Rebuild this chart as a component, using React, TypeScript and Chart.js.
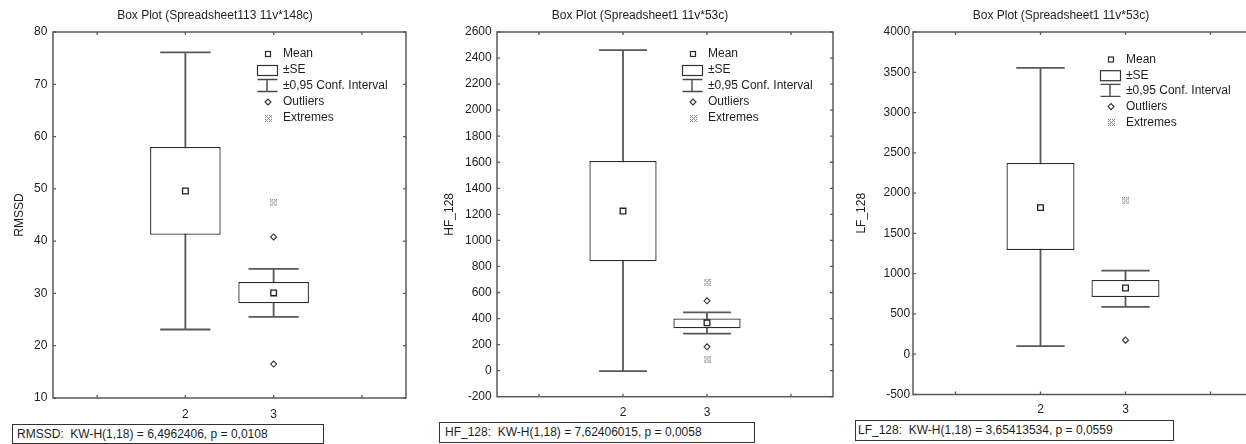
import React, { useEffect, useRef } from 'react';
import { Chart, registerables } from 'chart.js';

Chart.register(...registerables);

const FONT = '"Liberation Sans", Arial, Helvetica, sans-serif';
const TEXT = '#1e1e1e';
Chart.defaults.font.family = FONT;
Chart.defaults.color = TEXT;

// ---------- data ----------
const groupCodes = [2, 3];
const xTickValues = [1, 2, 3, 4];
const xTickLabels = [2, 3];
const legendLabels = ['Mean', '\u00B1SE', '\u00B10,95 Conf. Interval', 'Outliers', 'Extremes'];

const panelTitles = [
  'Box Plot (Spreadsheet113 11v*148c)',
  'Box Plot (Spreadsheet1 11v*53c)',
  'Box Plot (Spreadsheet1 11v*53c)',
];
const yTitles = ['RMSSD', 'HF_128', 'LF_128'];
const footnotes = [
  'RMSSD:  KW-H(1,18) = 6,4962406, p = 0,0108',
  'HF_128:  KW-H(1,18) = 7,62406015, p = 0,0058',
  'LF_128:  KW-H(1,18) = 3,65413534, p = 0,0559',
];

// RMSSD
const rmssdYAxis = [10, 80, 10];
const rmssdMean = [49.6, 30.1];
const rmssdSeLow = [41.2, 28.1];
const rmssdSeHigh = [58.0, 32.2];
const rmssdCiLow = [23.1, 25.5];
const rmssdCiHigh = [76.1, 34.7];
const rmssdOutlierGroup = [3, 3];
const rmssdOutlierValue = [40.8, 16.5];
const rmssdExtremeGroup = [3];
const rmssdExtremeValue = [47.3];

// HF_128
const hfYAxis = [-200, 2600, 200];
const hfMean = [1225, 367];
const hfSeLow = [840, 325];
const hfSeHigh = [1610, 400];
const hfCiLow = [-3, 284];
const hfCiHigh = [2461, 448];
const hfOutlierGroup = [3, 3];
const hfOutlierValue = [536, 183];
const hfExtremeGroup = [3, 3];
const hfExtremeValue = [676, 89];

// LF_128
const lfYAxis = [-500, 4000, 500];
const lfMean = [1820, 822];
const lfSeLow = [1293, 709];
const lfSeHigh = [2375, 921];
const lfCiLow = [100, 587];
const lfCiHigh = [3555, 1037];
const lfOutlierGroup = [3];
const lfOutlierValue = [175];
const lfExtremeGroup = [3];
const lfExtremeValue = [1904];

// ---------- helpers ----------
let iconCache: HTMLCanvasElement | null = null;
function extremeIcon(): HTMLCanvasElement {
  if (iconCache) return iconCache;
  const c = document.createElement('canvas');
  c.width = 7;
  c.height = 7;
  const g = c.getContext('2d')!;
  g.fillStyle = '#8a8a8a';
  for (let x = 0; x < 7; x++) {
    for (let y = 0; y < 7; y++) {
      const edge = x === 0 || x === 6 || y === 0 || y === 6 || x === y || x + y === 6;
      if ((x + y) % 2 === 0 && edge) g.fillRect(x, y, 1, 1);
    }
  }
  iconCache = c;
  return c;
}

const decorPlugin = {
  id: 'boxDecor',
  beforeDatasetsDraw(chart: any, _a: any, o: any) {
    const { ctx, scales } = chart;
    const x = scales.x;
    const y = scales.y;
    const slot = Math.abs(x.getPixelForValue(2) - x.getPixelForValue(1));
    const capHalf = slot * 0.285;
    ctx.save();
    ctx.strokeStyle = '#585858';
    ctx.lineWidth = 1.8;
    o.groups.forEach((g: number, i: number) => {
      const px = x.getPixelForValue(g);
      const lo = y.getPixelForValue(o.ciLow[i]);
      const hi = y.getPixelForValue(o.ciHigh[i]);
      ctx.beginPath();
      ctx.moveTo(px, lo);
      ctx.lineTo(px, hi);
      ctx.moveTo(px - capHalf, lo);
      ctx.lineTo(px + capHalf, lo);
      ctx.moveTo(px - capHalf, hi);
      ctx.lineTo(px + capHalf, hi);
      ctx.stroke();
    });
    ctx.restore();
  },
  afterDatasetsDraw(chart: any, _a: any, o: any) {
    const { ctx, chartArea: a, scales } = chart;
    const x = scales.x;
    const y = scales.y;
    ctx.save();
    // title
    ctx.fillStyle = TEXT;
    ctx.font = `12px ${FONT}`;
    ctx.textBaseline = 'middle';
    ctx.textAlign = 'center';
    ctx.fillText(o.title, o.titleX, o.titleY);
    // frame
    ctx.strokeStyle = '#5a5a5a';
    ctx.lineWidth = 1.5;
    ctx.strokeRect(a.left, a.top, a.right - a.left, a.bottom - a.top);
    // inward ticks
    ctx.lineWidth = 1.3;
    ctx.beginPath();
    y.ticks.forEach((t: any) => {
      const py = y.getPixelForValue(t.value);
      ctx.moveTo(a.left, py);
      ctx.lineTo(a.left + 3, py);
      ctx.moveTo(a.right, py);
      ctx.lineTo(a.right - 3, py);
    });
    x.ticks.forEach((t: any) => {
      const px = x.getPixelForValue(t.value);
      ctx.moveTo(px, a.bottom);
      ctx.lineTo(px, a.bottom - 3);
      ctx.moveTo(px, a.top);
      ctx.lineTo(px, a.top + 3);
    });
    ctx.stroke();

    // legend
    const mx = a.left + o.legendDX;
    const row = (i: number) => a.top + o.legendDY + i * o.legendStep;
    ctx.strokeStyle = '#2a2a2a';
    ctx.lineWidth = 1.2;
    ctx.strokeRect(mx - 2.5, row(0) - 2.5, 5, 5);
    ctx.strokeStyle = '#333';
    ctx.strokeRect(mx - 10.5, row(1) - 4.5, 20, 10);
    ctx.strokeStyle = '#484848';
    ctx.lineWidth = 1.4;
    ctx.beginPath();
    ctx.moveTo(mx - 10.5, row(2) - 6.5);
    ctx.lineTo(mx + 9.5, row(2) - 6.5);
    ctx.moveTo(mx - 1, row(2) - 6.5);
    ctx.lineTo(mx - 1, row(2) + 5.5);
    ctx.moveTo(mx - 10.5, row(2) + 5.5);
    ctx.lineTo(mx + 9.5, row(2) + 5.5);
    ctx.stroke();
    ctx.strokeStyle = '#333';
    ctx.lineWidth = 1.1;
    ctx.beginPath();
    ctx.moveTo(mx - 3, row(3));
    ctx.lineTo(mx, row(3) - 3);
    ctx.lineTo(mx + 3, row(3));
    ctx.lineTo(mx, row(3) + 3);
    ctx.closePath();
    ctx.stroke();
    ctx.drawImage(extremeIcon(), Math.round(mx - 3.5), Math.round(row(4) - 3.5));
    ctx.fillStyle = TEXT;
    ctx.textAlign = 'left';
    legendLabels.forEach((l, i) => ctx.fillText(l, mx + 15, row(i)));
    ctx.restore();
  },
};

type PanelDef = {
  left: number;
  width: number;
  yWidth: number;
  xHeight: number;
  rightPad: number;
  titleX: number;
  yTitlePad: number;
  yTickPad: number;
  xTickPad: number;
  legendDX: number;
  legendDY: number;
  legendStep: number;
  title: string;
  yTitle: string;
  yAxis: number[];
  mean: number[];
  seLow: number[];
  seHigh: number[];
  ciLow: number[];
  ciHigh: number[];
  outG: number[];
  outV: number[];
  extG: number[];
  extV: number[];
  note: string;
  noteBox: { left: number; top: number; width: number; height: number; pad: number };
};

const panels: PanelDef[] = [
  {
    left: 0, width: 430, yWidth: 53, xHeight: 46, rightPad: 24, titleX: 215, yTitlePad: 12.5, yTickPad: 5.6, xTickPad: 9.8,
    legendDX: 215, legendDY: 22, legendStep: 16,
    title: panelTitles[0], yTitle: yTitles[0], yAxis: rmssdYAxis,
    mean: rmssdMean, seLow: rmssdSeLow, seHigh: rmssdSeHigh, ciLow: rmssdCiLow, ciHigh: rmssdCiHigh,
    outG: rmssdOutlierGroup, outV: rmssdOutlierValue, extG: rmssdExtremeGroup, extV: rmssdExtremeValue,
    note: footnotes[0], noteBox: { left: 12, top: 424, width: 312, height: 20, pad: 4 },
  },
  {
    left: 420, width: 440, yWidth: 77, xHeight: 47.3, rightPad: 27, titleX: 220, yTitlePad: 22.8, yTickPad: 5.3, xTickPad: 8.4,
    legendDX: 196, legendDY: 22, legendStep: 16,
    title: panelTitles[1], yTitle: yTitles[1], yAxis: hfYAxis,
    mean: hfMean, seLow: hfSeLow, seHigh: hfSeHigh, ciLow: hfCiLow, ciHigh: hfCiHigh,
    outG: hfOutlierGroup, outV: hfOutlierValue, extG: hfExtremeGroup, extV: hfExtremeValue,
    note: footnotes[1], noteBox: { left: 439, top: 422, width: 316, height: 21, pad: 5 },
  },
  {
    left: 836, width: 450, yWidth: 77, xHeight: 49.5, rightPad: 33, titleX: 225, yTitlePad: 18.3, yTickPad: 2.8, xTickPad: 8.3,
    legendDX: 198, legendDY: 27.5, legendStep: 15.7,
    title: panelTitles[2], yTitle: yTitles[2], yAxis: lfYAxis,
    mean: lfMean, seLow: lfSeLow, seHigh: lfSeHigh, ciLow: lfCiLow, ciHigh: lfCiHigh,
    outG: lfOutlierGroup, outV: lfOutlierValue, extG: lfExtremeGroup, extV: lfExtremeValue,
    note: footnotes[2], noteBox: { left: 855, top: 420, width: 319, height: 21, pad: 2 },
  },
];

function Panel({ p }: { p: PanelDef }) {
  const ref = useRef<HTMLCanvasElement>(null);
  useEffect(() => {
    const cfg: any = {
      type: 'bar',
      data: {
        datasets: [
          {
            type: 'scatter',
            label: 'Mean',
            data: groupCodes.map((g, i) => ({ x: g, y: p.mean[i] })),
            pointStyle: 'rect',
            pointRadius: 4,
            borderColor: '#222',
            backgroundColor: 'rgba(0,0,0,0)',
            borderWidth: 1.3,
            order: 1,
          },
          {
            type: 'scatter',
            label: 'Outliers',
            data: p.outG.map((g, i) => ({ x: g, y: p.outV[i] })),
            pointStyle: 'rectRot',
            pointRadius: 3,
            borderColor: '#333',
            backgroundColor: 'rgba(0,0,0,0)',
            borderWidth: 1.1,
            order: 1,
          },
          {
            type: 'scatter',
            label: 'Extremes',
            data: p.extG.map((g, i) => ({ x: g, y: p.extV[i] })),
            pointStyle: extremeIcon(),
            pointRadius: 4,
            order: 1,
          },
          {
            type: 'bar',
            label: '\u00B1SE',
            data: groupCodes.map((g, i) => ({ x: g, y: [p.seLow[i], p.seHigh[i]] })),
            backgroundColor: '#ffffff',
            borderColor: '#2c2c2c',
            borderWidth: 1.3,
            borderSkipped: false,
            barPercentage: 0.8,
            categoryPercentage: 1,
            order: 2,
          },
        ],
      },
      options: {
        animation: false,
        responsive: false,
        events: [],
        layout: { autoPadding: false, padding: { left: 0, right: p.rightPad, top: 32, bottom: 0 } },
        plugins: {
          legend: { display: false },
          tooltip: { enabled: false },
          title: { display: false },
          boxDecor: {
            title: p.title,
            titleX: p.titleX,
            titleY: 16,
            groups: groupCodes,
            ciLow: p.ciLow,
            ciHigh: p.ciHigh,
            legendDX: p.legendDX,
            legendDY: p.legendDY,
            legendStep: p.legendStep,
          },
        },
        scales: {
          x: {
            type: 'linear',
            min: 0.5,
            max: 4.5,
            offset: false,
            grid: { display: false, drawTicks: false },
            border: { display: false },
            afterBuildTicks: (s: any) => {
              s.ticks = xTickValues.map((v) => ({ value: v }));
            },
            ticks: {
              autoSkip: false,
              maxRotation: 0,
              padding: p.xTickPad,
              color: TEXT,
              font: { size: 12 },
              callback: (v: number) => (xTickLabels.includes(v) ? String(v) : ''),
            },
            afterFit: (s: any) => {
              s.height = p.xHeight;
              s.paddingLeft = 0;
              s.paddingRight = 0;
            },
          },
          y: {
            type: 'linear',
            min: p.yAxis[0],
            max: p.yAxis[1],
            grid: { display: false, drawTicks: false },
            border: { display: false },
            ticks: {
              stepSize: p.yAxis[2],
              padding: p.yTickPad,
              color: TEXT,
              font: { size: 12 },
              callback: (v: number) => String(v),
            },
            title: {
              display: true,
              text: p.yTitle,
              color: TEXT,
              font: { size: 12 },
              padding: { top: p.yTitlePad, bottom: 0 },
            },
            afterFit: (s: any) => {
              s.width = p.yWidth;
            },
          },
        },
      },
      plugins: [decorPlugin],
    };
    const chart = new Chart(ref.current!, cfg);
    return () => chart.destroy();
  }, [p]);
  return (
    <canvas
      ref={ref}
      width={p.width}
      height={444}
      style={{ position: 'absolute', left: p.left, top: 0, width: p.width, height: 444 }}
    />
  );
}

export default function App() {
  return (
    <div
      style={{
        position: 'absolute',
        left: 0,
        top: 0,
        width: 1246,
        height: 444,
        overflow: 'hidden',
        background: '#fff',
        fontFamily: FONT,
      }}
    >
      {panels.map((p, i) => (
        <Panel key={i} p={p} />
      ))}
      {panels.map((p, i) => (
        <div
          key={'n' + i}
          style={{
            position: 'absolute',
            left: p.noteBox.left,
            top: p.noteBox.top,
            width: p.noteBox.width,
            height: p.noteBox.height,
            boxSizing: 'border-box',
            border: '1px solid #333',
            paddingLeft: p.noteBox.pad,
            fontSize: 12,
            lineHeight: '18px',
            color: TEXT,
            whiteSpace: 'pre',
            background: '#fff',
          }}
        >
          {p.note}
        </div>
      ))}
    </div>
  );
}
